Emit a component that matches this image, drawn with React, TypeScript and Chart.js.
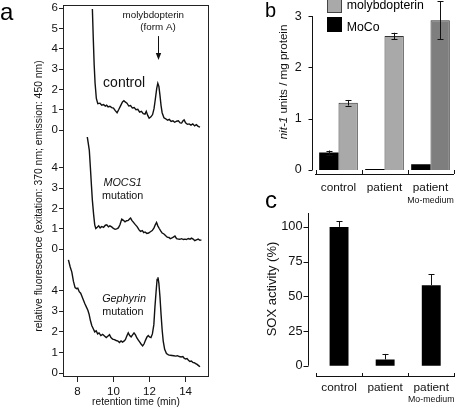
import React, { useEffect, useRef } from 'react';
import { Chart, registerables } from 'chart.js';

Chart.register(...registerables);

const FONT_FAMILY = "'Liberation Sans', Arial, Helvetica, sans-serif";
Chart.defaults.font.family = FONT_FAMILY;
Chart.defaults.color = '#111';

// ---------------- Panel a data (retention time min, relative fluorescence) ----------------
const A_X_TICKS = [8, 10, 12, 14];
const CONTROL_TICKS = [0, 1, 2, 3, 4, 5, 6];
const MUTANT_TICKS = [0, 1, 2, 3, 4];

const CONTROL_TRACE: [number, number][] = [
  [8.83, 5.95], [8.88, 4.5], [8.93, 3.2], [8.98, 2.3], [9.05, 1.55], [9.13, 1.3], [9.25, 1.32],
  [9.35, 1.22], [9.45, 1.25], [9.55, 1.18], [9.62, 1.22], [9.7, 1.14], [9.8, 1.17], [9.9, 1.1],
  [10.0, 1.08], [10.1, 0.95], [10.2, 0.85], [10.3, 1.02], [10.4, 1.2], [10.5, 1.38], [10.58, 1.44],
  [10.65, 1.38], [10.75, 1.32], [10.85, 1.18], [10.95, 1.2], [11.05, 1.08], [11.15, 1.1], [11.25, 1.0],
  [11.35, 1.02], [11.45, 0.88], [11.55, 0.92], [11.65, 0.8], [11.75, 0.78], [11.82, 0.92], [11.9, 0.72],
  [11.98, 0.58], [12.08, 0.65], [12.17, 0.76], [12.25, 1.05], [12.32, 1.5], [12.4, 2.05], [12.46, 2.3],
  [12.52, 2.15], [12.58, 1.7], [12.64, 1.2], [12.7, 0.85], [12.8, 0.6], [12.9, 0.55], [13.0, 0.48],
  [13.1, 0.52], [13.2, 0.42], [13.3, 0.45], [13.4, 0.38], [13.5, 0.43], [13.6, 0.45], [13.7, 0.35],
  [13.78, 0.34], [13.85, 0.44], [13.92, 0.5], [14.0, 0.35], [14.1, 0.28], [14.2, 0.3], [14.3, 0.24],
  [14.4, 0.3], [14.5, 0.2], [14.6, 0.26], [14.7, 0.18], [14.8, 0.14],
];

const MOCS1_TRACE: [number, number][] = [
  [8.54, 5.55], [8.6, 5.2], [8.66, 4.85], [8.72, 4.0], [8.78, 3.1], [8.83, 2.4], [8.9, 1.7],
  [8.96, 1.2], [9.02, 1.02], [9.1, 1.08], [9.18, 1.15], [9.26, 1.05], [9.35, 1.12], [9.45, 1.08],
  [9.55, 1.18], [9.63, 1.2], [9.72, 1.1], [9.8, 1.15], [9.9, 1.1], [10.0, 1.02], [10.09, 0.98],
  [10.18, 1.0], [10.27, 1.05], [10.36, 1.2], [10.46, 1.48], [10.55, 1.42], [10.64, 1.35], [10.73, 1.4],
  [10.82, 1.42], [10.9, 1.5], [10.95, 1.53], [11.02, 1.42], [11.1, 1.33], [11.2, 1.22], [11.32, 1.1],
  [11.42, 0.95], [11.5, 0.88], [11.6, 0.92], [11.68, 0.82], [11.75, 0.85], [11.85, 0.78], [11.95, 0.8],
  [12.05, 0.86], [12.15, 0.92], [12.25, 1.05], [12.32, 1.2], [12.39, 1.32], [12.46, 1.15], [12.54, 1.02],
  [12.62, 0.9], [12.7, 0.8], [12.8, 0.75], [12.9, 0.66], [12.98, 0.6], [13.08, 0.58], [13.15, 0.52],
  [13.22, 0.55], [13.32, 0.6], [13.41, 0.65], [13.5, 0.52], [13.6, 0.5], [13.68, 0.49], [13.78, 0.52],
  [13.88, 0.48], [13.96, 0.5], [14.05, 0.48], [14.15, 0.53], [14.25, 0.5], [14.33, 0.55], [14.42, 0.5],
  [14.51, 0.42], [14.6, 0.46], [14.7, 0.5], [14.8, 0.44], [14.88, 0.46],
];

const GEPHYRIN_TRACE: [number, number][] = [
  [7.5, 5.5], [7.6, 5.15], [7.69, 4.9], [7.78, 4.45], [7.87, 4.15], [7.95, 4.1], [8.02, 4.12],
  [8.1, 3.95], [8.18, 3.88], [8.26, 3.7], [8.33, 3.55], [8.42, 3.35], [8.5, 3.2], [8.58, 3.05],
  [8.65, 2.85], [8.72, 2.55], [8.8, 2.3], [8.88, 2.15], [8.96, 2.0], [9.04, 2.05], [9.12, 1.9],
  [9.2, 1.95], [9.3, 1.82], [9.4, 1.88], [9.5, 1.8], [9.6, 1.72], [9.7, 1.8], [9.78, 1.86],
  [9.86, 1.72], [9.95, 1.65], [10.05, 1.62], [10.15, 1.58], [10.25, 1.55], [10.33, 1.48], [10.42, 1.56],
  [10.5, 1.5], [10.58, 1.55], [10.66, 1.62], [10.74, 1.8], [10.82, 1.95], [10.9, 1.82], [10.98, 1.75],
  [11.06, 1.85], [11.14, 1.95], [11.22, 1.85], [11.3, 1.7], [11.38, 1.6], [11.46, 1.5], [11.54, 1.4],
  [11.62, 1.32], [11.7, 1.42], [11.78, 1.6], [11.86, 1.75], [11.93, 1.82], [12.0, 1.75], [12.08, 1.72],
  [12.16, 1.9], [12.24, 2.35], [12.3, 3.2], [12.36, 3.9], [12.42, 4.55], [12.47, 4.65], [12.52, 4.35],
  [12.58, 3.7], [12.64, 2.85], [12.7, 2.1], [12.76, 1.55], [12.84, 1.15], [12.94, 0.95], [13.05, 0.88],
  [13.15, 0.86], [13.25, 0.85], [13.35, 0.84], [13.45, 0.82], [13.55, 0.84], [13.65, 0.8], [13.75, 0.78],
  [13.85, 0.8], [13.92, 0.72], [14.0, 0.68], [14.08, 0.7], [14.16, 0.62], [14.24, 0.56], [14.32, 0.58],
  [14.4, 0.52], [14.48, 0.5], [14.56, 0.46], [14.64, 0.42], [14.72, 0.36], [14.8, 0.3],
];

const A_Y_TITLE = 'relative fluorescence (exitation: 370 nm; emission: 450 nm)';
const A_X_TITLE = 'retention time (min)';

const A_NOTES = [
  { text: 'molybdopterin', x: 12.21, y: 5.66, axis: 'yC', size: 9.8, italic: false },
  { text: '(form A)', x: 12.47, y: 5.04, axis: 'yC', size: 9.8, italic: false },
  { text: 'control', x: 10.59, y: 2.31, axis: 'yC', size: 14, italic: false },
  { text: 'MOCS1', x: 10.51, y: 3.27, axis: 'yM', size: 10.8, italic: true },
  { text: 'mutation', x: 10.51, y: 2.62, axis: 'yM', size: 10.8, italic: false },
  { text: 'Gephyrin', x: 10.59, y: 3.6, axis: 'yG', size: 10.8, italic: true },
  { text: 'mutation', x: 10.52, y: 2.98, axis: 'yG', size: 10.8, italic: false },
];
const A_ARROW = { x: 12.47, from: 4.62, to: 3.44, axis: 'yC' };

// ---------------- Panel b data ----------------
const B_CATEGORIES = ['control', 'patient', 'patient'];
const B_SUBLABELS = ['', '', 'Mo-medium'];
const MOCO_VALUES = [0.34, 0.02, 0.11];
const MOCO_ERRORS = [0.04, 0, 0];
const MPT_VALUES = [1.31, 2.61, 2.92];
const MPT_ERRORS = [0.055, 0.065, 0.37];
const MPT_COLORS = ['#a9a9a9', '#a9a9a9', '#7e7e7e'];
const B_Y_TICKS = [0, 1, 2, 3];
const B_Y_TITLE = [
  { text: 'nit-1', italic: true },
  { text: ' units / mg protein', italic: false },
];

// ---------------- Panel c data ----------------
const C_CATEGORIES = ['control', 'patient', 'patient'];
const C_SUBLABELS = ['', '', 'Mo-medium'];
const SOX_VALUES = [100, 4.5, 58];
const SOX_ERRORS = [4.2, 4, 8];
const C_Y_TICKS = [0, 25, 50, 75, 100];
const C_Y_TITLE = [{ text: 'SOX activity (%)', italic: false }];

const INK = '#111';

function fontStr(size: number, italic = false) {
  return `${italic ? 'italic ' : ''}${size}px ${FONT_FAMILY}`;
}

// ---------------- Panel a ----------------
const panelAPlugin = {
  id: 'panelADecor',
  afterDraw(chart: any) {
    const { ctx, chartArea: ca, scales } = chart;
    ctx.save();
    ctx.strokeStyle = '#222';
    ctx.lineWidth = 1;
    ctx.strokeRect(Math.round(ca.left) + 0.5, Math.round(ca.top) + 0.5, Math.round(ca.width) - 1, Math.round(ca.height) - 1);
    ctx.fillStyle = INK;
    ctx.textAlign = 'center';
    ctx.textBaseline = 'middle';
    for (const n of A_NOTES) {
      ctx.font = fontStr(n.size, n.italic);
      ctx.fillText(n.text, scales.x.getPixelForValue(n.x), scales[n.axis].getPixelForValue(n.y));
    }
    const ax = Math.round(scales.x.getPixelForValue(A_ARROW.x)) + 0.5;
    const y1 = scales[A_ARROW.axis].getPixelForValue(A_ARROW.from);
    const y2 = scales[A_ARROW.axis].getPixelForValue(A_ARROW.to);
    ctx.strokeStyle = INK;
    ctx.beginPath();
    ctx.moveTo(ax, y1);
    ctx.lineTo(ax, y2 - 6);
    ctx.stroke();
    ctx.beginPath();
    ctx.moveTo(ax - 2.7, y2 - 7);
    ctx.lineTo(ax + 2.7, y2 - 7);
    ctx.lineTo(ax, y2);
    ctx.closePath();
    ctx.fill();
    ctx.restore();
  },
};

function PanelA() {
  const ref = useRef<HTMLCanvasElement>(null);
  useEffect(() => {
    if (!ref.current) return;
    const yAxis = (min: number, max: number, ticks: number[], weight: number, stackWeight: number, withTitle: boolean) => ({
      type: 'linear',
      position: 'left',
      stack: 'traces',
      stackWeight,
      weight,
      min,
      max,
      afterBuildTicks: (s: any) => { s.ticks = ticks.map((v) => ({ value: v })); },
      afterFit: (s: any) => { s.width = 63; s.paddingTop = 0; s.paddingBottom = 0; },
      grid: { drawOnChartArea: false, drawTicks: true, tickLength: 4, color: '#222', lineWidth: 1 },
      border: { display: false },
      ticks: { autoSkip: false, padding: 1, color: INK, font: { size: 11.5 }, callback: (v: any) => String(v) },
      title: withTitle
        ? { display: true, text: A_Y_TITLE, color: INK, font: { size: 10.4 }, padding: { top: 33, bottom: 0 } }
        : { display: false },
    });
    const line = (trace: [number, number][], axis: string) => ({
      data: trace.map(([x, y]) => ({ x, y })),
      yAxisID: axis,
      borderColor: INK,
      borderWidth: 1.4,
      pointRadius: 0,
      tension: 0,
      fill: false,
    });
    const chart = new Chart(ref.current, {
      type: 'line',
      data: {
        datasets: [
          line(CONTROL_TRACE, 'yC'),
          line(MOCS1_TRACE, 'yM'),
          line(GEPHYRIN_TRACE, 'yG'),
        ],
      },
      options: {
        responsive: false,
        animation: false,
        events: [],
        layout: { padding: { left: 0, top: 5, right: 31, bottom: 0 } },
        plugins: { legend: { display: false }, tooltip: { enabled: false } },
        scales: {
          x: {
            type: 'linear',
            min: 7.2,
            max: 15.3,
            afterBuildTicks: (s: any) => { s.ticks = A_X_TICKS.map((v) => ({ value: v })); },
            afterFit: (s: any) => { s.height = 32; s.paddingLeft = 0; s.paddingRight = 0; },
            grid: { drawOnChartArea: false, tickLength: 5, color: '#222' },
            border: { display: false },
            ticks: { autoSkip: false, maxRotation: 0, padding: 3, color: INK, font: { size: 11.5 } },
            title: { display: true, text: A_X_TITLE, color: INK, font: { size: 10.2 }, padding: { top: 0, bottom: 1 } },
          },
          yC: yAxis(-0.344, 6.149, CONTROL_TICKS, 3, 132, false),
          yM: yAxis(-0.279, 5.505, MUTANT_TICKS, 2, 118, true),
          yG: yAxis(-0.194, 5.734, MUTANT_TICKS, 1, 122, false),
        } as any,
      },
      plugins: [panelAPlugin],
    } as any);
    return () => chart.destroy();
  }, []);
  return <canvas ref={ref} width={240} height={409} style={{ position: 'absolute', left: 0, top: 0, display: 'block' }} />;
}

// ---------------- Bar panels (b, c) ----------------
type DecorOpts = {
  yGap: number;
  yLineTop: number;
  yTickLen: number;
  xTickLen: number;
  sublabels: string[];
  sublabelY: number;
  errorsBothWays: boolean;
  title: { text: string; italic: boolean }[];
  titleSize: number;
  titleDX: number;
  titleY: number;
  yTicks: number[];
};

function makeBarDecor(o: DecorOpts) {
  return {
    id: 'barDecor',
    afterDatasetsDraw(chart: any) {
      const { ctx, scales } = chart;
      const ys = scales.y;
      ctx.save();
      ctx.strokeStyle = INK;
      ctx.fillStyle = INK;
      ctx.lineWidth = 1;
      // error bars
      chart.data.datasets.forEach((ds: any, di: number) => {
        const meta = chart.getDatasetMeta(di);
        (ds.errors || []).forEach((e: number, i: number) => {
          if (!e) return;
          const bar = meta.data[i];
          const x = Math.round(bar.x) + 0.5;
          const v = ds.data[i];
          const top = ys.getPixelForValue(v + e);
          const bot = o.errorsBothWays ? ys.getPixelForValue(v - e) : ys.getPixelForValue(v);
          ctx.beginPath();
          ctx.moveTo(x, bot);
          ctx.lineTo(x, top);
          ctx.moveTo(x - 3, Math.round(top) + 0.5);
          ctx.lineTo(x + 3, Math.round(top) + 0.5);
          if (o.errorsBothWays) {
            ctx.moveTo(x - 3, Math.round(bot) + 0.5);
            ctx.lineTo(x + 3, Math.round(bot) + 0.5);
          }
          ctx.stroke();
        });
      });
      ctx.restore();
    },
    afterDraw(chart: any) {
      const { ctx, chartArea: ca, scales } = chart;
      const xs = scales.x;
      const ys = scales.y;
      ctx.save();
      ctx.strokeStyle = INK;
      ctx.lineWidth = 1;
      // y axis line, set off from the plot
      const lx = Math.round(ca.left - o.yGap) + 0.5;
      ctx.beginPath();
      ctx.moveTo(lx, ys.getPixelForValue(0));
      ctx.lineTo(lx, ys.getPixelForValue(o.yLineTop));
      for (const t of o.yTicks) {
        const py = Math.round(ys.getPixelForValue(t)) + 0.5;
        ctx.moveTo(lx, py);
        ctx.lineTo(lx - o.yTickLen, py);
      }
      // x axis tick marks pointing up at category boundaries
      const n = xs.getLabels().length;
      const by = Math.round(ca.bottom);
      for (let i = 0; i <= n; i++) {
        const px = Math.round(xs.getPixelForValue(i - 0.5)) + 0.5;
        ctx.moveTo(px, by);
        ctx.lineTo(px, by - o.xTickLen);
      }
      ctx.stroke();
      // sublabels
      ctx.fillStyle = INK;
      ctx.textAlign = 'center';
      ctx.textBaseline = 'middle';
      ctx.font = fontStr(8.8);
      o.sublabels.forEach((s, i) => {
        if (s) ctx.fillText(s, xs.getPixelForValue(i), o.sublabelY);
      });
      // y title with mixed styles
      ctx.translate(ca.left + o.titleDX, o.titleY);
      ctx.rotate(-Math.PI / 2);
      let total = 0;
      for (const p of o.title) {
        ctx.font = fontStr(o.titleSize, p.italic);
        total += ctx.measureText(p.text).width;
      }
      let cx = -total / 2;
      ctx.textAlign = 'left';
      for (const p of o.title) {
        ctx.font = fontStr(o.titleSize, p.italic);
        ctx.fillText(p.text, cx, 0);
        cx += ctx.measureText(p.text).width;
      }
      ctx.restore();
    },
  };
}

function PanelB() {
  const ref = useRef<HTMLCanvasElement>(null);
  useEffect(() => {
    if (!ref.current) return;
    const chart = new Chart(ref.current, {
      type: 'bar',
      data: {
        labels: B_CATEGORIES,
        datasets: [
          { label: 'MoCo', data: MOCO_VALUES, errors: MOCO_ERRORS, backgroundColor: '#000', borderColor: '#000', borderWidth: 0 },
          { label: 'molybdopterin', data: MPT_VALUES, errors: MPT_ERRORS, backgroundColor: MPT_COLORS, borderColor: '#333', borderWidth: 1 },
        ],
      },
      options: {
        responsive: false,
        animation: false,
        events: [],
        layout: { padding: { left: 0, top: 0, right: 4.5, bottom: 0 } },
        plugins: { legend: { display: false }, tooltip: { enabled: false } },
        datasets: { bar: { barPercentage: 1, categoryPercentage: 0.84 } },
        scales: {
          x: {
            type: 'category',
            offset: true,
            afterFit: (s: any) => { s.height = 32; s.paddingLeft = 0; s.paddingRight = 0; },
            grid: { display: true, drawOnChartArea: false, drawTicks: false },
            border: { display: true, color: INK, width: 1 },
            ticks: { padding: 6.6, color: INK, font: { size: 11.8 }, maxRotation: 0 },
          },
          y: {
            type: 'linear',
            min: -0.078,
            max: 3.314,
            afterBuildTicks: (s: any) => { s.ticks = B_Y_TICKS.map((v) => ({ value: v })); },
            afterFit: (s: any) => { s.width = 75.5; s.paddingTop = 0; s.paddingBottom = 0; },
            grid: { display: false, drawTicks: false },
            border: { display: false },
            ticks: { padding: 13.8, color: INK, font: { size: 12.5 }, callback: (v: any) => String(v) },
          },
        } as any,
      },
      plugins: [makeBarDecor({
        yGap: 3.8, yLineTop: 3, yTickLen: 4, xTickLen: 4,
        sublabels: B_SUBLABELS, sublabelY: 200.8, errorsBothWays: true,
        title: B_Y_TITLE, titleSize: 11.6, titleDX: -32.2, titleY: 82, yTicks: B_Y_TICKS,
      })],
    } as any);
    return () => chart.destroy();
  }, []);
  return <canvas ref={ref} width={218} height={206} style={{ position: 'absolute', left: 240, top: 0, display: 'block' }} />;
}

function PanelC() {
  const ref = useRef<HTMLCanvasElement>(null);
  useEffect(() => {
    if (!ref.current) return;
    const chart = new Chart(ref.current, {
      type: 'bar',
      data: {
        labels: C_CATEGORIES,
        datasets: [
          { label: 'SOX', data: SOX_VALUES, errors: SOX_ERRORS, backgroundColor: '#000', borderColor: '#000', borderWidth: 0 },
        ],
      },
      options: {
        responsive: false,
        animation: false,
        events: [],
        layout: { padding: { left: 0, top: 7, right: 3.7, bottom: 0 } },
        plugins: { legend: { display: false }, tooltip: { enabled: false } },
        datasets: { bar: { barPercentage: 0.41, categoryPercentage: 1 } },
        scales: {
          x: {
            type: 'category',
            offset: true,
            afterFit: (s: any) => { s.height = 32.3; s.paddingLeft = 0; s.paddingRight = 0; },
            grid: { display: true, drawOnChartArea: false, drawTicks: false },
            border: { display: true, color: INK, width: 1 },
            ticks: { padding: 4.4, color: INK, font: { size: 11.8 }, maxRotation: 0 },
          },
          y: {
            type: 'linear',
            min: -7.9,
            max: 110,
            afterBuildTicks: (s: any) => { s.ticks = C_Y_TICKS.map((v) => ({ value: v })); },
            afterFit: (s: any) => { s.width = 76; s.paddingTop = 0; s.paddingBottom = 0; },
            grid: { display: false, drawTicks: false },
            border: { display: false },
            ticks: { padding: 13.5, color: INK, font: { size: 12.8 }, callback: (v: any) => String(v) },
          },
        } as any,
      },
      plugins: [makeBarDecor({
        yGap: 7.7, yLineTop: 110, yTickLen: 5, xTickLen: 4,
        sublabels: C_SUBLABELS, sublabelY: 193.5, errorsBothWays: false,
        title: C_Y_TITLE, titleSize: 13, titleDX: -43.5, titleY: 83, yTicks: C_Y_TICKS,
      })],
    } as any);
    return () => chart.destroy();
  }, []);
  return <canvas ref={ref} width={218} height={203} style={{ position: 'absolute', left: 240, top: 206, display: 'block' }} />;
}

const labelStyle = (left: number, top: number, size: number): React.CSSProperties => ({
  position: 'absolute', left, top, fontSize: size, lineHeight: `${size}px`, color: '#000', fontFamily: FONT_FAMILY,
});

export default function App() {
  return (
    <div style={{ position: 'absolute', left: 0, top: 0, width: 458, height: 409, background: '#fff', overflow: 'hidden', fontFamily: FONT_FAMILY }}>
      <PanelA />
      <PanelB />
      <PanelC />
      <div style={labelStyle(0, 0, 24)}>a</div>
      <div style={labelStyle(265, 0, 20)}>b</div>
      <div style={labelStyle(265, 188, 24)}>c</div>
      {/* legend of panel b */}
      <div style={{ position: 'absolute', left: 326.7, top: -2.3, width: 15, height: 15.6, boxSizing: 'border-box', background: MPT_COLORS[0], border: '1px solid #444' }} />
      <div style={{ position: 'absolute', left: 326.7, top: 16.7, width: 15, height: 15.6, background: '#000' }} />
      <div style={{ ...labelStyle(346.7, -1, 12.3), whiteSpace: 'nowrap' }}>molybdopterin</div>
      <div style={{ ...labelStyle(346.7, 20.5, 12.3), whiteSpace: 'nowrap' }}>MoCo</div>
    </div>
  );
}
